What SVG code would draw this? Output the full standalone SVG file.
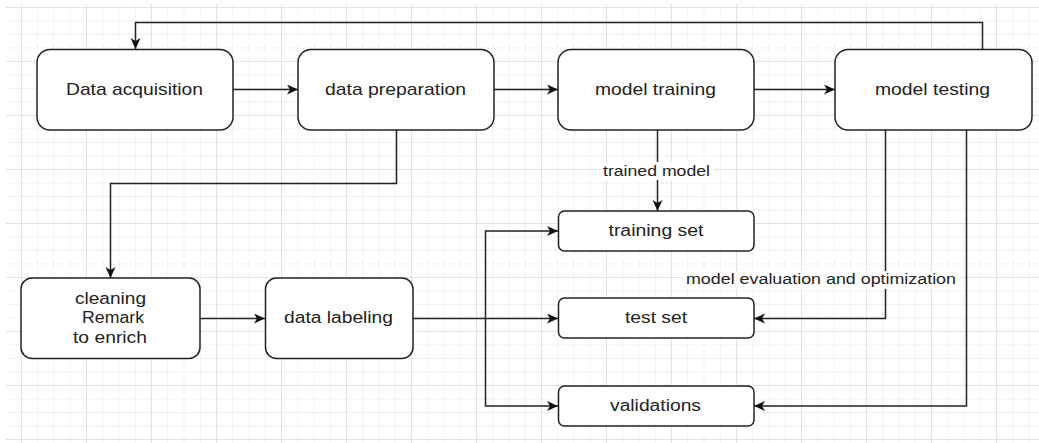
<svg xmlns="http://www.w3.org/2000/svg" width="1039" height="443" viewBox="0 0 1039 443">
  <defs>
    <pattern id="gridMinor" x="21" y="7" width="16.25" height="13.5" patternUnits="userSpaceOnUse">
      <path d="M0.5 0 V13.5 M0 0.5 H16.25" fill="none" stroke="#f1f1f1" stroke-width="1"/>
    </pattern>
    <pattern id="gridMajor" x="21" y="7" width="65" height="54" patternUnits="userSpaceOnUse">
      <path d="M0.5 0 V54 M0 0.5 H65" fill="none" stroke="#e2e2e2" stroke-width="1"/>
    </pattern>
    <marker id="arrow" markerUnits="userSpaceOnUse" markerWidth="12" markerHeight="11" refX="11" refY="5" orient="auto">
      <path d="M0,0 L11,5 L0,10 L3,5 Z" fill="#111"/>
    </marker>
    <style>
      .node rect { fill: #ffffff; stroke: #222; stroke-width: 1.5; }
      .node text, .label text { font-family: "Liberation Sans", Arial, sans-serif; fill: #222; }
      .big { font-size: 17px; }
      .mid { font-size: 16px; }
      .small { font-size: 14px; }
      .edge { fill: none; stroke: #222; stroke-width: 1.5; marker-end: url(#arrow); }
      .line { fill: none; stroke: #222; stroke-width: 1.5; }
      .label rect { fill: #ffffff; }
    </style>
  </defs>

  <!-- background grid -->
  <rect x="0" y="0" width="1039" height="443" fill="#ffffff"/>
  <rect x="6" y="4" width="1033" height="439" fill="url(#gridMinor)"/>
  <rect x="6" y="4" width="1033" height="439" fill="url(#gridMajor)"/>

  <!-- connectors -->
  <g id="connectors">
    <path class="edge" d="M233,89.5 H298"/>
    <path class="edge" d="M494,89.5 H558"/>
    <path class="edge" d="M754,89.5 H835"/>
    <path class="edge" d="M982.5,49 V22.5 H135.5 V49"/>
    <path class="edge" d="M657.5,130 V211"/>
    <path class="edge" d="M396.5,130 V183.5 H110.5 V278"/>
    <path class="edge" d="M200,318.5 H265"/>
    <path class="edge" d="M413,318.5 H558"/>
    <path class="edge" d="M485.5,318.5 V231 H558"/>
    <path class="edge" d="M485.5,318.5 V406 H558"/>
    <path class="edge" d="M885.5,130 V318.5 H754"/>
    <path class="edge" d="M966.5,130 V406 H754"/>
  </g>

  <!-- edge labels -->
  <g id="label-trained" class="label">
    <rect x="600" y="162" width="114" height="18"/>
    <text class="small" x="603" y="176" textLength="107" lengthAdjust="spacingAndGlyphs">trained model</text>
  </g>
  <g id="label-evaluation" class="label">
    <rect x="683" y="271" width="277" height="18"/>
    <text class="small" x="686" y="284" textLength="270" lengthAdjust="spacingAndGlyphs">model evaluation and optimization</text>
  </g>

  <!-- nodes -->
  <g id="data-acquisition" class="node">
    <rect x="37" y="49.5" width="196" height="80.5" rx="13"/>
    <text class="big" x="66" y="95" textLength="137" lengthAdjust="spacingAndGlyphs">Data acquisition</text>
  </g>
  <g id="data-preparation" class="node">
    <rect x="298" y="49.5" width="196" height="80.5" rx="13"/>
    <text class="big" x="325" y="95" textLength="141" lengthAdjust="spacingAndGlyphs">data preparation</text>
  </g>
  <g id="model-training" class="node">
    <rect x="558" y="49.5" width="196" height="80.5" rx="13"/>
    <text class="big" x="595" y="95" textLength="121" lengthAdjust="spacingAndGlyphs">model training</text>
  </g>
  <g id="model-testing" class="node">
    <rect x="835" y="49.5" width="197" height="80.5" rx="13"/>
    <text class="big" x="875" y="95" textLength="115" lengthAdjust="spacingAndGlyphs">model testing</text>
  </g>
  <g id="cleaning" class="node">
    <rect x="21" y="278" width="179" height="80.5" rx="11"/>
    <text class="mid" x="75" y="304" textLength="71" lengthAdjust="spacingAndGlyphs">cleaning</text>
    <text class="mid" x="82" y="323" textLength="62" lengthAdjust="spacingAndGlyphs">Remark</text>
    <text class="mid" x="73" y="343" textLength="74" lengthAdjust="spacingAndGlyphs">to enrich</text>
  </g>
  <g id="data-labeling" class="node">
    <rect x="265.5" y="278" width="147.5" height="80.5" rx="11"/>
    <text class="mid" x="284" y="323" textLength="109" lengthAdjust="spacingAndGlyphs">data labeling</text>
  </g>
  <g id="training-set" class="node">
    <rect x="558.5" y="211" width="195.5" height="40" rx="6"/>
    <text class="mid" x="608.5" y="236" textLength="95" lengthAdjust="spacingAndGlyphs">training set</text>
  </g>
  <g id="test-set" class="node">
    <rect x="558.5" y="298" width="195.5" height="40" rx="6"/>
    <text class="mid" x="625" y="323" textLength="62" lengthAdjust="spacingAndGlyphs">test set</text>
  </g>
  <g id="validations" class="node">
    <rect x="558.5" y="386" width="195.5" height="40" rx="6"/>
    <text class="mid" x="610" y="411" textLength="91" lengthAdjust="spacingAndGlyphs">validations</text>
  </g>
</svg>
